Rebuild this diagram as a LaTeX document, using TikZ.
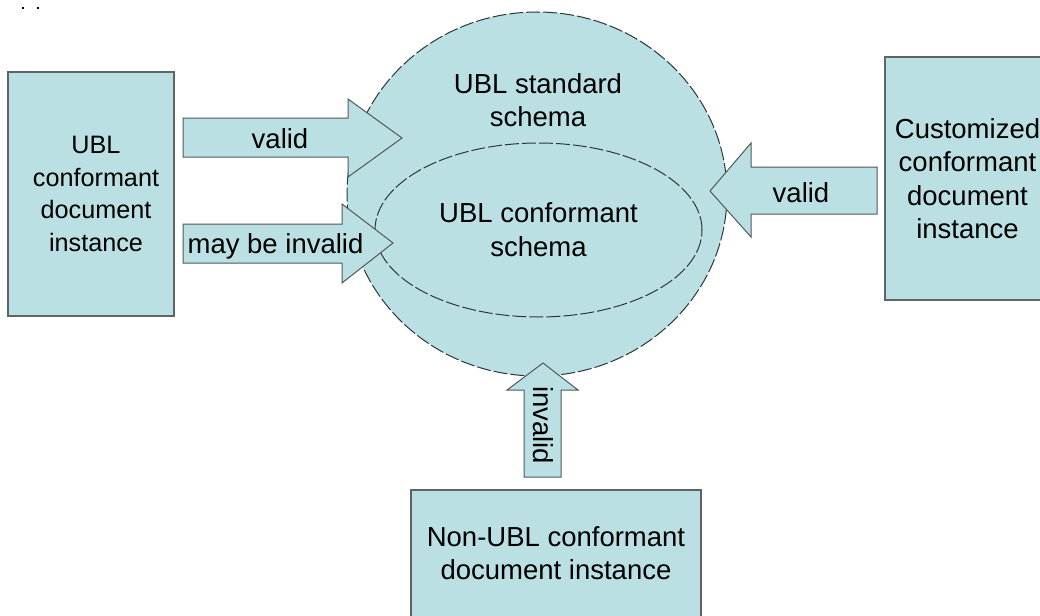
\documentclass[tikz,border=0pt]{standalone}
\usepackage{fontspec}
\setmainfont{Liberation Sans}
\usetikzlibrary{shapes.geometric}
\definecolor{lblue}{RGB}{187,224,227}
\definecolor{boxedge}{RGB}{95,100,100}
\definecolor{dashcol}{RGB}{45,55,55}
\definecolor{arredge}{RGB}{80,88,88}
\begin{document}
\begin{tikzpicture}[x=1pt,y=-1pt,
  box/.style={draw=boxedge, line width=1.5pt, fill=lblue, inner sep=0pt, align=center,
    font=\fontsize{27.5}{33.5}\selectfont},
  zone/.style={draw=dashcol, line width=1pt, dash pattern=on 14pt off 3pt, fill=lblue, inner sep=0pt},
  blockarrow/.style={draw=arredge, line width=1pt, fill=lblue, line join=miter},
  lab/.style={font=\fontsize{27.5}{33.5}\selectfont, inner sep=0pt, align=center},
]
\useasboundingbox (0,0) rectangle (1040,615);
\clip (0,0) rectangle (1040,615);

% tiny marks at top left
\fill[black] (22,7) rectangle (24,9);
\fill[black] (37,7) rectangle (39,9);

% schemas
\node[zone, ellipse, minimum width=380, minimum height=364] (outer) at (537,194) {};
\node[zone, ellipse, minimum width=327, minimum height=174, align=center,
  font=\fontsize{27.5}{34}\selectfont] (inner) at (538.5,230) {UBL conformant\\schema};
\node[lab] (stdtext) at (538,100) {UBL standard\\schema};

% block arrows
\draw[blockarrow] (183,118) -- (348,118) -- (348,99) -- (402,138) -- (348,177) -- (348,157) -- (183,157) -- cycle;
\node[lab, anchor=base] (valid1) at (280,148) {valid};

\draw[blockarrow] (183,224) -- (342,224) -- (342,204) -- (393,243) -- (342,283) -- (342,263) -- (183,263) -- cycle;
\node[lab, anchor=base] (mayinv) at (275.5,253) {may be invalid};

\draw[blockarrow] (877,167) -- (751,167) -- (751,143) -- (710,191) -- (751,237) -- (751,214) -- (877,214) -- cycle;
\node[lab, anchor=base] (valid2) at (801,202) {valid};

\draw[blockarrow] (524,477) -- (524,390) -- (507,390) -- (543,363) -- (578,390) -- (561,390) -- (561,477) -- cycle;
\node[lab, rotate=-90] (invalid) at (543,425) {invalid};

% document boxes
\node[box, minimum width=166, minimum height=244] (ubldoc) at (91,194) {};
\node[lab, font=\fontsize{25.2}{32.7}\selectfont] (ubltext) at (96,194) {UBL\\conformant\\document\\instance};

\node[box, minimum width=165, minimum height=243] (custdoc) at (967.5,178.5) {Customized\\conformant\\document\\instance};

\node[box, minimum width=290, minimum height=127, font=\fontsize{27.5}{33}\selectfont] (nonubl) at (556,553.5) {Non-UBL conformant\\document instance};
\end{tikzpicture}
\end{document}
